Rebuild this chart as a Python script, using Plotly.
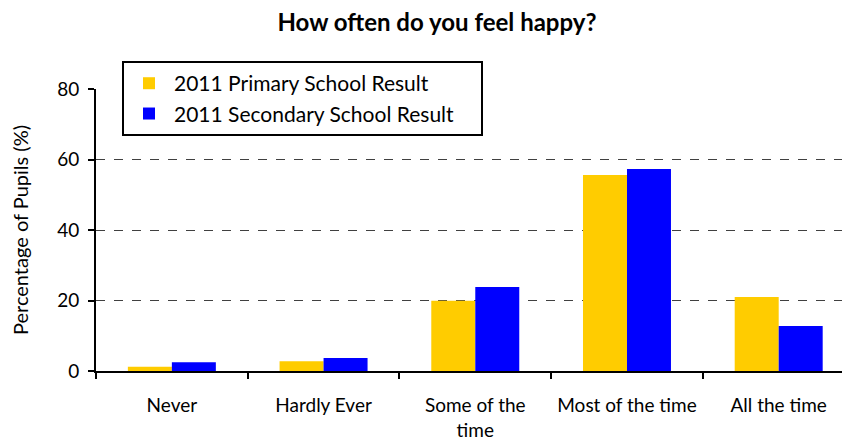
import plotly.graph_objects as go

categories = ["Never", "Hardly Ever", "Some of the<br>time", "Most of the time", "All the time"]
primary = [1.2, 2.8, 19.9, 55.6, 21.0]
secondary = [2.5, 3.7, 23.8, 57.3, 12.8]
y_ticks = [0, 20, 40, 60, 80]
series_names = ["2011 Primary School Result", "2011 Secondary School Result"]
y_title = "Percentage of Pupils (%)"

FONT = "Lato"
PAD = "\u00a0" * 4

fig = go.Figure()
fig.add_trace(go.Bar(x=categories, y=primary, name=series_names[0] + PAD,
                     marker=dict(color="#FFCC00", line=dict(width=0))))
fig.add_trace(go.Bar(x=categories, y=secondary, name=series_names[1] + PAD,
                     marker=dict(color="#0000FF", line=dict(width=0))))

# page renders the figure at an 8px offset, so figure is 842x435
fig.update_layout(
    width=842, height=435,
    margin=dict(l=88, r=0, t=81, b=72, autoexpand=False),
    paper_bgcolor="white", plot_bgcolor="white",
    font=dict(family=FONT, size=16, color="black"),
    barmode="group", bargap=0.42, bargroupgap=0,
    title=dict(text="<b>How often do you feel happy?</b>", x=0.5095, xanchor="center",
               y=0.966, yanchor="middle", font=dict(family=FONT, size=24, color="black")),
    legend=dict(x=0.1354, y=0.878, xref="container", yref="container",
                xanchor="left", yanchor="top",
                bgcolor="white", bordercolor="black", borderwidth=2,
                font=dict(family=FONT, size=21, color="black"),
                tracegroupgap=0, itemwidth=40),
    showlegend=True,
    annotations=[dict(text=y_title, xref="paper", yref="paper", x=-0.1008, y=0.5,
                      xanchor="center", yanchor="middle", textangle=-90, showarrow=False,
                      font=dict(family=FONT, size=20, color="black"))],
)
fig.update_xaxes(
    range=[-0.5, 4.47],
    showline=True, linecolor="black", linewidth=2,
    ticks="outside", tickson="boundaries", ticklen=6, tickwidth=2, tickcolor="black",
    tickfont=dict(family=FONT, size=19, color="black"),
    ticklabelstandoff=16,
    showgrid=False, zeroline=False,
)
fig.update_yaxes(
    range=[0, 80], tickvals=y_ticks,
    showline=True, linecolor="black", linewidth=2,
    ticks="outside", ticklen=6, tickwidth=2, tickcolor="black",
    tickfont=dict(family=FONT, size=19, color="black"),
    ticklabelstandoff=5,
    showgrid=True, gridcolor="#404040", gridwidth=1, griddash="dash",
    zeroline=False,
)

fig.write_html("out.html")
